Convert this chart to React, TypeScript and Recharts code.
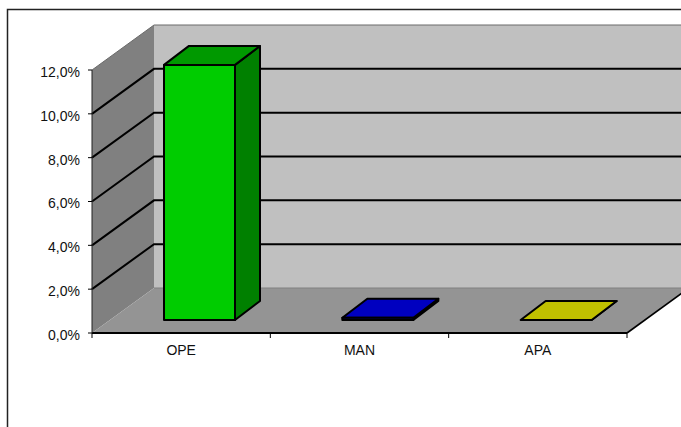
import { Bar, BarChart, CartesianGrid, Cell, XAxis, YAxis } from "recharts";

const categories = ["OPE", "MAN", "APA"];
const shares = [11.64, 0.1, 0];
const frontColors = ["#00cc00", "#000080", "#c8c800"];
const topColors = ["#009900", "#0000c0", "#c0c000"];
const sideColors = ["#008000", "#000060", "#808000"];
const yTicks = [0, 2, 4, 6, 8, 10, 12];

const WIDTH = 681;
const HEIGHT = 427;
const LEFT = 92;
const TOP = 70;
const RIGHT = 627;
const BOTTOM = 333;
// how far the back wall sits from the front plane
const DEPTH_X = 62;
const DEPTH_Y = 45;
// how far the bars stand off the front plane, and their own depth
const BAR_DX = 18;
const BAR_DY = 13;
const BAR_DEPTH_X = 25;
const BAR_DEPTH_Y = 19;
const BAND = (RIGHT - LEFT) / categories.length;

const data = categories.map((name, i) => ({ name, share: shares[i] }));

const pts = (list: number[][]) => list.map((p) => p.join(",")).join(" ");

function Bar3D(props: any) {
  const { x, y, width, height, index } = props;
  const l = x + BAR_DX;
  const r = l + width;
  const t = y - BAR_DY;
  const b = t + height;
  const edge = { stroke: "#000", strokeWidth: 2, strokeLinejoin: "round" as const };
  return (
    <g>
      <polygon
        points={pts([[r, b], [r + BAR_DEPTH_X, b - BAR_DEPTH_Y], [r + BAR_DEPTH_X, t - BAR_DEPTH_Y], [r, t]])}
        fill={sideColors[index]}
        {...edge}
      />
      <polygon
        points={pts([[l, t], [l + BAR_DEPTH_X, t - BAR_DEPTH_Y], [r + BAR_DEPTH_X, t - BAR_DEPTH_Y], [r, t]])}
        fill={topColors[index]}
        {...edge}
      />
      <rect x={l} y={t} width={width} height={height} fill={frontColors[index]} {...edge} />
    </g>
  );
}

// grid lines run up the side wall, then along the back wall
function GridLine(props: any) {
  const { x1, y1, x2, index } = props;
  if (y1 >= BOTTOM - 1) return <g key={index} />;
  const isTop = y1 <= TOP + 1;
  return (
    <polyline
      key={index}
      points={pts([[x1, y1], [x1 + DEPTH_X, y1 - DEPTH_Y], [x2 + DEPTH_X, y1 - DEPTH_Y]])}
      fill="none"
      stroke={isTop ? "#6a6a6a" : "#000"}
      strokeWidth={isTop ? 1 : 2}
    />
  );
}

// category label, with tick marks on the band edges rather than its centre
function CategoryTick(props: any) {
  const { x, y, index, payload } = props;
  return (
    <g>
      {index === 0 && <line x1={x - BAND / 2} y1={y} x2={x - BAND / 2} y2={y + 5} stroke="#000" />}
      <line x1={x + BAND / 2} y1={y} x2={x + BAND / 2} y2={y + 5} stroke="#000" />
      <text x={x} y={y + 22} textAnchor="middle" {...axisText}>
        {payload.value}
      </text>
    </g>
  );
}

const formatPct = (v: number) => v.toFixed(1).replace(".", ",") + "%";
const axisText = { fill: "#111", fontSize: 14, fontFamily: "Liberation Sans" };

function Backdrop() {
  return (
    <svg width={WIDTH} height={HEIGHT} style={{ position: "absolute", left: 0, top: 0 }}>
      <path d={`M7.5 427V9.5H${WIDTH}`} fill="none" stroke="#222" strokeWidth={1.5} />
      {/* side wall, back wall, floor */}
      <polygon
        points={pts([[LEFT, TOP], [LEFT + DEPTH_X, TOP - DEPTH_Y], [LEFT + DEPTH_X, BOTTOM - DEPTH_Y], [LEFT, BOTTOM]])}
        fill="#808080"
      />
      <rect
        x={LEFT + DEPTH_X}
        y={TOP - DEPTH_Y}
        width={WIDTH - LEFT - DEPTH_X}
        height={BOTTOM - TOP}
        fill="#c0c0c0"
      />
      <polygon
        points={pts([[LEFT, BOTTOM], [LEFT + DEPTH_X, BOTTOM - DEPTH_Y], [RIGHT + DEPTH_X, BOTTOM - DEPTH_Y], [RIGHT, BOTTOM]])}
        fill="#949494"
      />
      <line x1={LEFT + DEPTH_X} y1={BOTTOM - DEPTH_Y} x2={WIDTH} y2={BOTTOM - DEPTH_Y} stroke="#808080" />
      <line x1={RIGHT} y1={BOTTOM} x2={RIGHT + DEPTH_X} y2={BOTTOM - DEPTH_Y} stroke="#000" strokeWidth={1.6} />
    </svg>
  );
}

export default function App() {
  return (
    <div style={{ position: "absolute", left: 0, top: 0, width: WIDTH, height: HEIGHT, overflow: "hidden", background: "#fff" }}>
      <Backdrop />
      <div style={{ position: "absolute", left: 0, top: 0 }}>
        <BarChart
          width={WIDTH}
          height={HEIGHT}
          data={data}
          margin={{ top: TOP, right: WIDTH - RIGHT, bottom: 0, left: 0 }}
          barSize={71}
        >
          <CartesianGrid vertical={false} horizontal={GridLine as any} />
          <XAxis
            dataKey="name"
            height={HEIGHT - BOTTOM}
            tick={CategoryTick}
            tickLine={false}
            axisLine={{ stroke: "#000", strokeWidth: 2 }}
            tickSize={0}
            tickMargin={0}
            interval={0}
          />
          <YAxis
            domain={[0, 12]}
            ticks={yTicks}
            width={LEFT}
            tick={{ ...axisText, dy: 2 }}
            tickFormatter={formatPct}
            tickLine={{ stroke: "#000" }}
            axisLine={{ stroke: "#222", strokeWidth: 1 }}
            tickSize={4}
            tickMargin={8}
          />
          <Bar dataKey="share" isAnimationActive={false} shape={Bar3D}>
            {categories.map((c, i) => (
              <Cell key={c} fill={frontColors[i]} />
            ))}
          </Bar>
        </BarChart>
      </div>
    </div>
  );
}
